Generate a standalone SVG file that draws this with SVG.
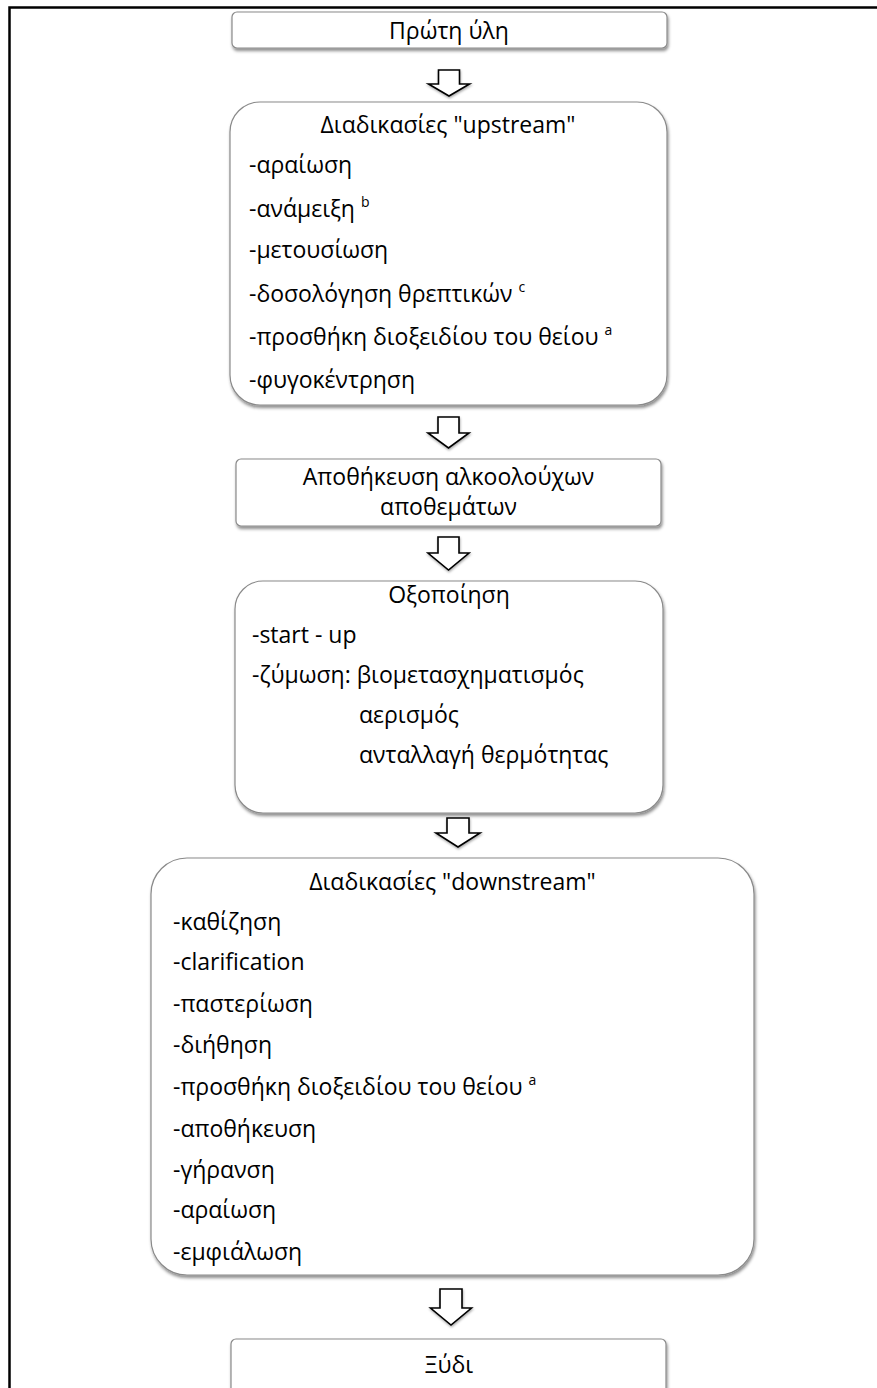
<svg xmlns="http://www.w3.org/2000/svg" width="877" height="1388" viewBox="0 0 877 1388">
<defs>
<filter id="sh" x="-10%" y="-10%" width="120%" height="130%">
<feDropShadow dx="1" dy="2.5" stdDeviation="1.8" flood-color="#000" flood-opacity="0.45"/>
</filter>
<filter id="ash" x="-30%" y="-30%" width="160%" height="160%">
<feDropShadow dx="0.5" dy="1.5" stdDeviation="1" flood-color="#000" flood-opacity="0.35"/>
</filter>
</defs>
<style>
.box{fill:#fff;stroke:#8a8a8a;stroke-width:1.2;filter:url(#sh)}
.arr{fill:#fff;stroke:#000;stroke-width:1.6;stroke-linejoin:miter;filter:url(#ash)}
text{font-family:"Open Sans","Noto Sans","DejaVu Sans",sans-serif;font-size:23px;fill:#000}
.c{text-anchor:middle}
.sup{font-size:14px}
</style>
<rect x="9.5" y="7.5" width="880" height="1400" fill="#fff" stroke="#000" stroke-width="2.5"/>
<g id="n1">
<rect class="box" x="232" y="12" width="435" height="36" rx="5"/>
<text class="c" x="449" y="39">Πρώτη ύλη</text>
</g>
<g id="n2">
<rect class="box" x="230" y="102" width="437" height="303" rx="30"/>
<text class="c" x="448" y="133">Διαδικασίες "upstream"</text>
<text x="249" y="173">-αραίωση</text>
<text x="249" y="217">-ανάμειξη <tspan class="sup" dy="-10">b</tspan></text>
<text x="249" y="258">-μετουσίωση</text>
<text x="249" y="302">-δοσολόγηση θρεπτικών <tspan class="sup" dy="-10">c</tspan></text>
<text x="249" y="345">-προσθήκη διοξειδίου του θείου <tspan class="sup" dy="-10">a</tspan></text>
<text x="249" y="388">-φυγοκέντρηση</text>
</g>
<g id="n3">
<rect class="box" x="236" y="459" width="425" height="67" rx="5"/>
<text class="c" x="448.5" y="485">Αποθήκευση αλκοολούχων</text>
<text class="c" x="448.5" y="515">αποθεμάτων</text>
</g>
<g id="n4">
<rect class="box" x="235" y="581" width="428" height="232" rx="28"/>
<text class="c" x="449" y="603">Οξοποίηση</text>
<text x="252" y="643">-start - up</text>
<text x="252" y="683">-ζύμωση: βιομετασχηματισμός</text>
<text x="359" y="723">αερισμός</text>
<text x="359" y="763">ανταλλαγή θερμότητας</text>
</g>
<g id="n5">
<rect class="box" x="151" y="858" width="603" height="417" rx="36"/>
<text class="c" x="452.5" y="890">Διαδικασίες "downstream"</text>
<text x="173" y="930">-καθίζηση</text>
<text x="173" y="970">-clarification</text>
<text x="173" y="1012">-παστερίωση</text>
<text x="173" y="1053">-διήθηση</text>
<text x="173" y="1095">-προσθήκη διοξειδίου του θείου <tspan class="sup" dy="-10">a</tspan></text>
<text x="173" y="1137">-αποθήκευση</text>
<text x="173" y="1178">-γήρανση</text>
<text x="173" y="1218">-αραίωση</text>
<text x="173" y="1260">-εμφιάλωση</text>
</g>
<g id="n6">
<rect class="box" x="231" y="1339" width="435" height="70" rx="5"/>
<text class="c" x="449" y="1373">Ξύδι</text>
</g>
<g id="connectors">
<path class="arr" d="M438.5,70 H459.5 V84 H469.5 L449,96 L428.5,84 H438.5 Z"/>
<path class="arr" d="M438,417 H459 V433 H469 L448.5,448 L428,433 H438 Z"/>
<path class="arr" d="M438,537 H459 V553 H469 L448.5,570 L428,553 H438 Z"/>
<path class="arr" d="M447,818 H469 V833 H480 L458,847 L436,833 H447 Z"/>
<path class="arr" d="M440,1289 H462 V1308 H471.5 L451,1325 L430.5,1308 H440 Z"/>
</g>
</svg>
